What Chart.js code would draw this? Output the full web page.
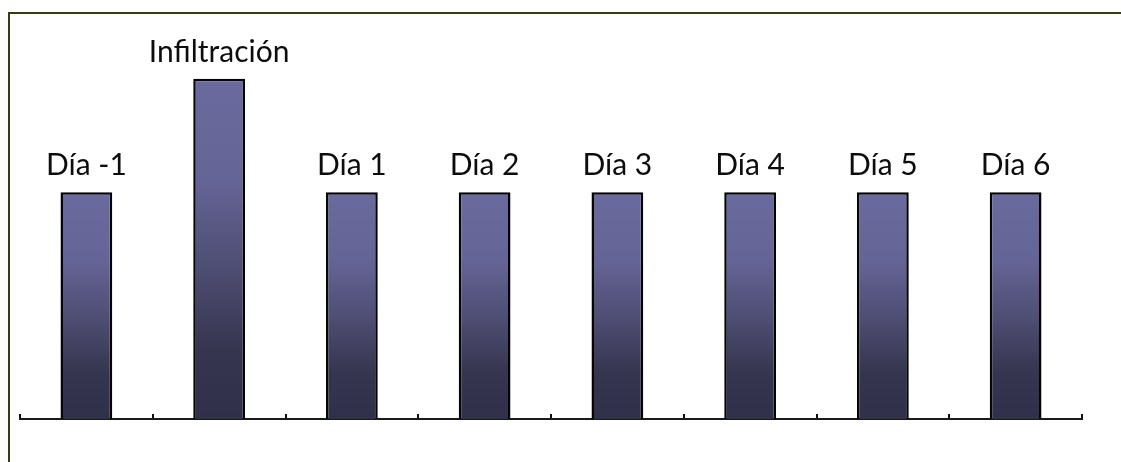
<!DOCTYPE html>
<html>
<head>
<meta charset="utf-8">
<script src="https://cdn.jsdelivr.net/npm/chart.js@4"></script>
<style>
    html, body { margin: 0; padding: 0; background: #fff; overflow: hidden; }
    #wrap { position: relative; width: 1121px; height: 462px; }
    #frame {
        position: absolute; left: 8px; top: 12px; width: 1200px; height: 500px;
        border-left: 2px solid #3a3a12; border-top: 2px solid #3a3a12;
    }
    canvas { position: absolute; left: 0; top: 0; }
</style>
</head>
<body>
<div id="wrap">
    <div id="frame"></div>
    <canvas id="chart" width="1121" height="462"></canvas>
</div>
<script>
// ===============================================
// Data
// ===============================================
const categories = ['Día -1', 'Infiltración', 'Día 1', 'Día 2', 'Día 3', 'Día 4', 'Día 5', 'Día 6'];
const values = [2, 3, 2, 2, 2, 2, 2, 2];
const yMin = 0;
const yMax = 3.5;

// ===============================================
// Bar fill: vertical gradient per bar
// ===============================================
function barGradient(context) {
    const chart = context.chart;
    const { ctx, chartArea, scales } = chart;
    if (!chartArea || context.dataIndex === undefined) return '#5a5a88';
    const top = scales.y.getPixelForValue(values[context.dataIndex]);
    const base = scales.y.getPixelForValue(0);
    const g = ctx.createLinearGradient(0, top, 0, base);
    g.addColorStop(0, '#6b6a9e');
    g.addColorStop(0.3, '#656496');
    g.addColorStop(0.55, '#4f4e74');
    g.addColorStop(0.8, '#35354f');
    g.addColorStop(1, '#30304a');
    return g;
}

// ===============================================
// Category names written above each bar
// ===============================================
const barLabels = {
    id: 'barLabels',
    afterDatasetsDraw(chart) {
        const { ctx } = chart;
        const meta = chart.getDatasetMeta(0);
        ctx.save();
        ctx.font = '30px Lato';
        ctx.fillStyle = '#0d0d0d';
        ctx.textAlign = 'center';
        ctx.textBaseline = 'alphabetic';
        meta.data.forEach((bar, i) => {
            ctx.fillText(categories[i], bar.x, bar.y - 17);
        });
        ctx.restore();
    }
};

new Chart(document.getElementById('chart'), {
    type: 'bar',
    data: {
        labels: categories,
        datasets: [{
            data: values,
            backgroundColor: barGradient,
            borderColor: '#050505',
            borderWidth: 2.5,
            borderSkipped: 'start',
            barPercentage: 0.39,
            categoryPercentage: 1
        }]
    },
    options: {
        responsive: false,
        animation: false,
        layout: { padding: { left: 20, right: 39, top: 22, bottom: 43 } },
        plugins: {
            legend: { display: false },
            tooltip: { enabled: false }
        },
        scales: {
            x: {
                offset: true,
                ticks: { display: false },
                grid: {
                    offset: true,
                    drawOnChartArea: false,
                    drawTicks: true,
                    tickLength: -5,
                    color: '#111',
                    lineWidth: 2
                },
                border: { display: true, color: '#1a1a1a', width: 2 },
                afterFit: scale => { scale.height = 0; }
            },
            y: {
                display: false,
                min: yMin,
                max: yMax
            }
        }
    },
    plugins: [barLabels]
});
</script>
</body>
</html>
